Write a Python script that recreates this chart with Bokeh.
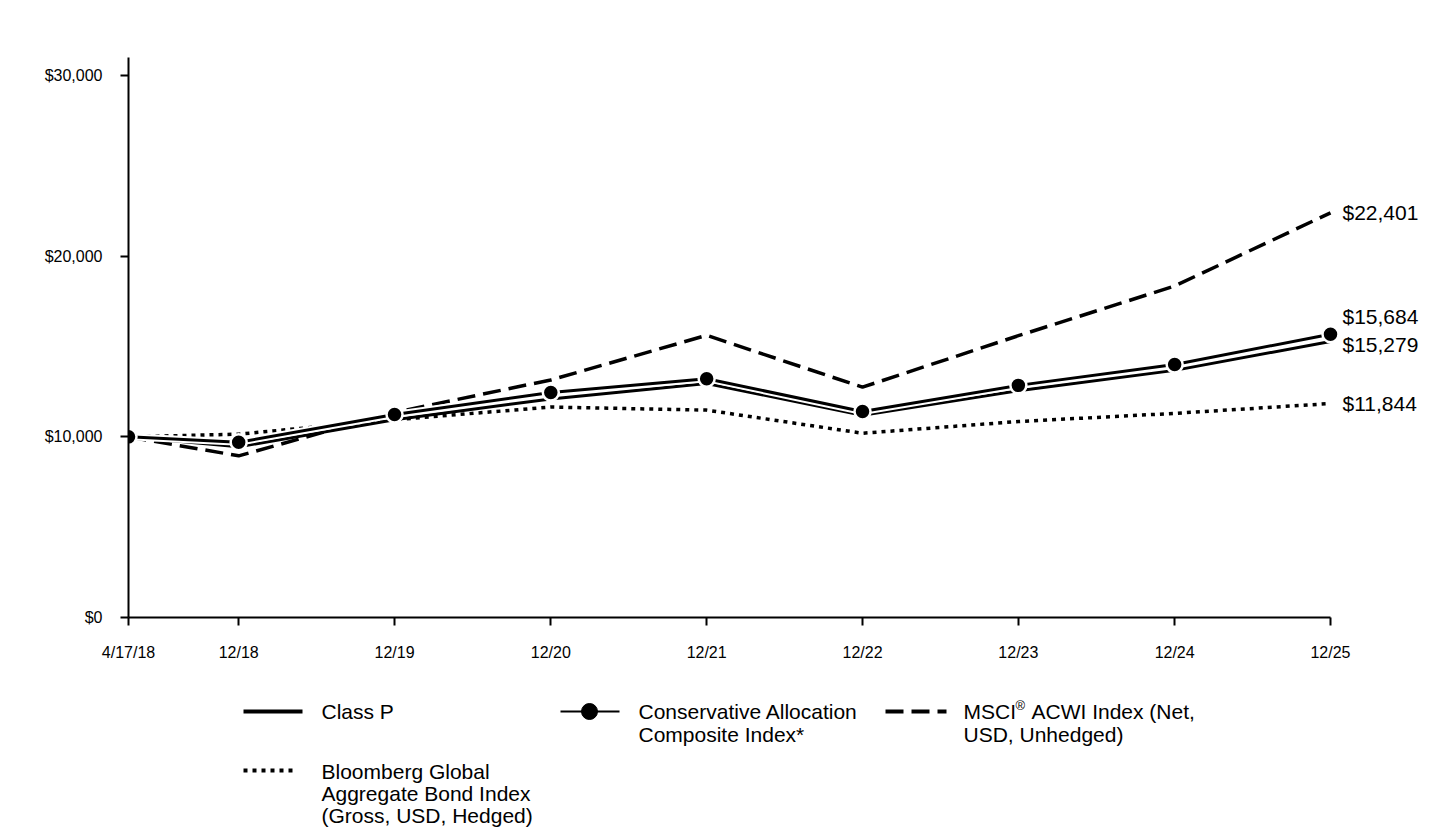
import pandas as pd
from bokeh.plotting import figure
from bokeh.models import Range1d, FixedTicker, NumeralTickFormatter, ColumnDataSource
from bokeh.layouts import column
from bokeh.embed import file_html
from bokeh.resources import INLINE
from bokeh.core.properties import value

# ---------------- data ----------------
dates = ["2018-04-17", "2018-12-31", "2019-12-31", "2020-12-31", "2021-12-31",
         "2022-12-31", "2023-12-31", "2024-12-31", "2025-12-31"]
date_labels = ["4/17/18", "12/18", "12/19", "12/20", "12/21", "12/22", "12/23", "12/24", "12/25"]
class_p = [10000, 9450, 10950, 12100, 12950, 11200, 12550, 13680, 15279]
composite = [10000, 9700, 11240, 12450, 13220, 11400, 12850, 14000, 15684]
msci = [10000, 8950, 11350, 13150, 15620, 12750, 15600, 18350, 22401]
bloomberg = [10000, 10150, 10950, 11650, 11480, 10200, 10850, 11300, 11844]
y_ticks = [0, 10000, 20000, 30000]

FONT = "Liberation Sans"
x_ms = [int(pd.Timestamp(d).timestamp() * 1000) for d in dates]

# ---------------- main chart ----------------
W = 1424
FRAME_LEFT, FRAME_TOP, FRAME_H, BOTTOM = 128, 57, 560, 63
DATA_PX = 1202                      # pixel span between first and last date
span = x_ms[-1] - x_ms[0]
right_pad = span * (W - FRAME_LEFT - DATA_PX) / DATA_PX   # room for end labels

p = figure(width=W, height=FRAME_TOP + FRAME_H + BOTTOM, output_backend="svg",
           toolbar_location=None,
           min_border_left=FRAME_LEFT, min_border_right=0,
           min_border_top=FRAME_TOP, min_border_bottom=BOTTOM,
           x_range=Range1d(x_ms[0], x_ms[-1] + right_pad),
           y_range=Range1d(0, 31000))
p.outline_line_color = None
p.grid.visible = False

# series
p.line(x_ms, bloomberg, line_color="black", line_width=3.5, line_dash="4 5", line_cap="butt")
p.line(x_ms, msci, line_color="black", line_width=3.5, line_dash="18 8", line_cap="butt")
p.line(x_ms, class_p, line_color="black", line_width=3)
p.line(x_ms, composite, line_color="white", line_width=7)
p.line(x_ms, composite, line_color="black", line_width=3)
p.scatter(x_ms, composite, size=16, fill_color="black", line_color="white", line_width=2.5)

# end labels
end_values = [msci[-1], composite[-1], class_p[-1], bloomberg[-1]]
end_src = ColumnDataSource(dict(
    x=[x_ms[-1]] * 4, y=end_values, text=[f"${v:,}" for v in end_values],
    dy=[0, -18, 3, 0]))
p.text(x="x", y="y", text="text", y_offset="dy", x_offset=12, source=end_src,
       text_font=value(FONT), text_font_size="21px", text_baseline="middle",
       text_align="left", text_color="black")

# axes
p.xaxis.bounds = (x_ms[0], x_ms[-1])
p.xaxis.ticker = FixedTicker(ticks=x_ms)
p.xaxis.major_label_overrides = {t: l for t, l in zip(x_ms, date_labels)}
p.yaxis.ticker = FixedTicker(ticks=y_ticks)
p.yaxis.formatter = NumeralTickFormatter(format="$0,0")
for ax in (p.xaxis, p.yaxis):
    ax.axis_line_width = 2
    ax.axis_line_color = "black"
    ax.major_tick_out = 8
    ax.major_tick_in = 0
    ax.major_tick_line_width = 2
    ax.major_tick_line_color = "black"
    ax.minor_tick_line_color = None
    ax.major_label_text_color = "black"
    ax.major_label_text_font = FONT
    ax.major_label_standoff = 18
p.xaxis.major_label_text_font_size = "16px"
p.yaxis.major_label_text_font_size = "16px"

# ---------------- legend (coordinates = page pixels) ----------------
H1 = FRAME_TOP + FRAME_H + BOTTOM
H2 = 832 - H1
lg = figure(width=W, height=H2, output_backend="svg", toolbar_location=None,
            min_border_left=FRAME_LEFT, min_border_right=0,
            min_border_top=0, min_border_bottom=0,
            x_range=Range1d(FRAME_LEFT, W), y_range=Range1d(H1 + H2, H1))
lg.axis.visible = False
lg.grid.visible = False
lg.outline_line_color = None

lg.line([243, 302], [711, 711], line_color="black", line_width=4)
lg.line([560, 619], [711, 711], line_color="black", line_width=2)
lg.scatter([589], [711], size=16, fill_color="black", line_color="black")
lg.line([885, 946], [711, 711], line_color="black", line_width=4, line_dash="18 8", line_cap="butt")
lg.line([243, 297], [770, 770], line_color="black", line_width=4, line_dash="4 5", line_cap="butt")

legend_texts = ["Class P", "Conservative Allocation", "Composite Index*",
                "MSCI", "ACWI Index (Net,", "USD, Unhedged)",
                "Bloomberg Global", "Aggregate Bond Index", "(Gross, USD, Hedged)"]
legend_x = [321, 638, 638, 963, 1031, 963, 321, 321, 321]
legend_y = [711, 711, 734, 711, 711, 734, 771, 793, 815]
lg.text(x=legend_x, y=legend_y, text=legend_texts, text_font=value(FONT),
        text_font_size="21px", text_baseline="middle", text_color="black")
lg.text(x=[1015], y=[705], text=["®"], text_font=value(FONT),
        text_font_size="13px", text_baseline="middle", text_color="black")

layout = column(p, lg)
open("out.html", "w").write(file_html(layout, INLINE))
